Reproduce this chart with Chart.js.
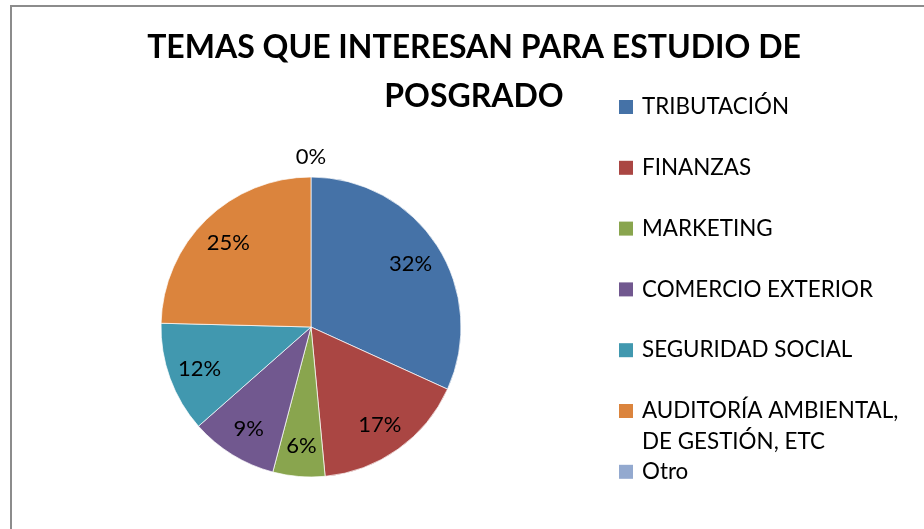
<!DOCTYPE html>
<html><head><meta charset="utf-8">
<script src="https://cdn.jsdelivr.net/npm/chart.js@4/dist/chart.umd.min.js"></script>
<style>
html,body{margin:0;padding:0;background:#fff;overflow:hidden;width:924px;height:529px}
#frame{position:absolute;left:10px;top:5px;width:940px;height:540px;border:2px solid #8c8c8c}
canvas{display:block}
</style></head><body>
<div id="frame"><canvas id="c" width="940" height="540"></canvas></div>
<script>
const titleLines = ['TEMAS QUE INTERESAN PARA ESTUDIO DE', 'POSGRADO'];
const categories = ['TRIBUTACIÓN', 'FINANZAS', 'MARKETING', 'COMERCIO EXTERIOR', 'SEGURIDAD SOCIAL', 'AUDITORÍA AMBIENTAL, DE GESTIÓN, ETC', 'Otro'];
const values = [31.8, 16.7, 5.6, 9.4, 11.9, 24.6, 0];
const colors = ['#4572A7', '#AA4643', '#89A54E', '#71588F', '#4198AF', '#DB843D', '#93A9CF'];

const FONT = 'Lato, "Open Sans", sans-serif';

const titlePlugin = {
  id: 'excelTitle',
  afterDraw(chart) {
    const ctx = chart.ctx;
    ctx.save();
    ctx.fillStyle = '#000';
    ctx.font = 'bold 32px ' + FONT;
    ctx.textAlign = 'center';
    ctx.textBaseline = 'middle';
    titleLines.forEach((t, i) => ctx.fillText(t, 462, 41 + i * 49));
    ctx.restore();
  }
};

function wrap(ctx, text, maxW) {
  const words = text.split(' ');
  const lines = [];
  let cur = '';
  words.forEach(w => {
    const test = cur ? cur + ' ' + w : w;
    if (ctx.measureText(test).width > maxW && cur) { lines.push(cur); cur = w; }
    else cur = test;
  });
  if (cur) lines.push(cur);
  return lines;
}

const legendPlugin = {
  id: 'excelLegend',
  afterDraw(chart) {
    const ctx = chart.ctx;
    const labels = chart.data.labels;
    const bg = chart.data.datasets[0].backgroundColor;
    ctx.save();
    ctx.font = '22.4px ' + FONT;
    ctx.textBaseline = 'middle';
    ctx.textAlign = 'left';
    labels.forEach((lab, i) => {
      const y = 100 + i * 60.8;
      ctx.fillStyle = bg[i];
      ctx.fillRect(607, y - 7, 14, 14);
      ctx.fillStyle = '#000';
      wrap(ctx, lab, 282).forEach((ln, j) => ctx.fillText(ln, 630, y + j * 31));
    });
    ctx.restore();
  }
};

const labelPlugin = {
  id: 'pctLabels',
  afterDatasetsDraw(chart) {
    const ctx = chart.ctx;
    const meta = chart.getDatasetMeta(0);
    const data = chart.data.datasets[0].data;
    const total = data.reduce((a, b) => a + b, 0);
    ctx.save();
    ctx.font = '22px ' + FONT;
    ctx.fillStyle = '#000';
    ctx.textAlign = 'center';
    ctx.textBaseline = 'middle';
    meta.data.forEach((arc, i) => {
      const p = arc.getProps(['x', 'y', 'startAngle', 'endAngle', 'outerRadius'], true);
      const mid = (p.startAngle + p.endAngle) / 2;
      const d = data[i] === 0 ? p.outerRadius * 1.14 : p.outerRadius * 0.79;
      const txt = Math.round(data[i] / total * 100) + '%';
      ctx.fillText(txt, p.x + Math.cos(mid) * d, p.y + Math.sin(mid) * d + 1);
    });
    ctx.restore();
  }
};

new Chart(document.getElementById('c'), {
  type: 'pie',
  data: {
    labels: categories,
    datasets: [{
      data: values,
      backgroundColor: colors,
      borderColor: 'rgba(255,255,255,0.7)',
      borderWidth: 1
    }]
  },
  options: {
    responsive: false,
    animation: false,
    devicePixelRatio: 1,
    layout: { padding: { left: 148.5, top: 169.5, right: 490.5, bottom: 69.5 } },
    plugins: {
      legend: { display: false },
      title: { display: false },
      tooltip: { enabled: false }
    }
  },
  plugins: [labelPlugin, titlePlugin, legendPlugin]
});
</script>
</body></html>
